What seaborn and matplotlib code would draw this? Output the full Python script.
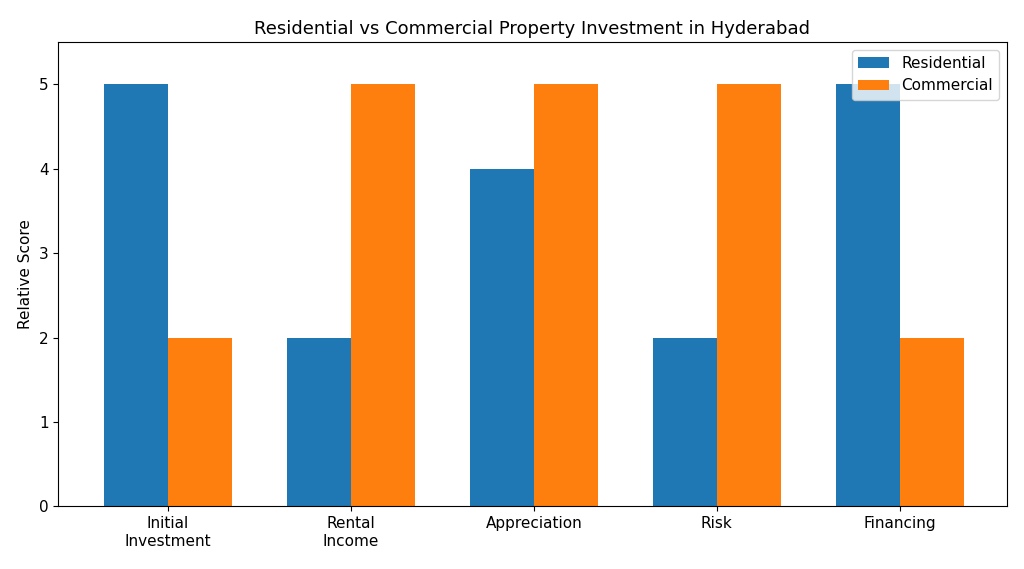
import matplotlib
matplotlib.use('Agg')
import matplotlib.pyplot as plt
import seaborn as sns
import pandas as pd

factors = ['Initial\nInvestment', 'Rental\nIncome', 'Appreciation', 'Risk', 'Financing']
residential = [5, 2, 4, 2, 5]
commercial = [2, 5, 5, 5, 2]

df = pd.DataFrame({
    'factor': factors * 2,
    'score': residential + commercial,
    'type': ['Residential'] * len(factors) + ['Commercial'] * len(factors),
})

fig, ax = plt.subplots(figsize=(10.24, 5.69), dpi=100)
sns.barplot(data=df, x='factor', y='score', hue='type',
            palette=['#1f77b4', '#ff7f0e'], width=0.7, gap=0,
            saturation=1, ax=ax)

ax.set_xlim(-0.6, 4.585)
ax.set_ylim(0, 5.5)
ax.set_xlabel('')
ax.set_ylabel('Relative Score', fontsize=11)
ax.set_title('Residential vs Commercial Property Investment in Hyderabad', fontsize=13)
ax.legend(loc='upper right', title=None, fontsize=11)
ax.tick_params(labelsize=11)

fig.subplots_adjust(left=0.057, right=0.983, top=0.926, bottom=0.11)
fig.savefig('out.png', dpi=100)
